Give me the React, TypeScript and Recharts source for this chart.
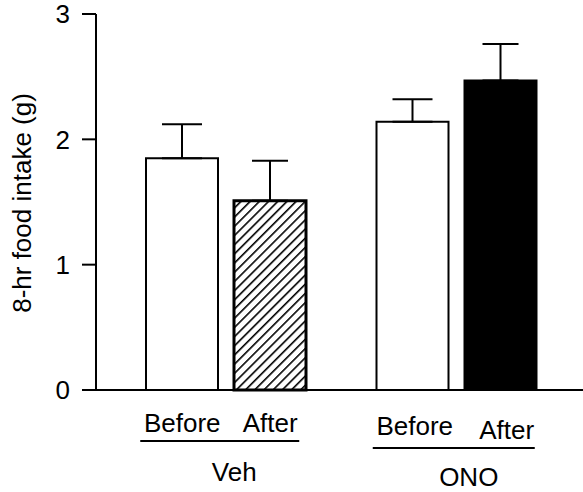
import React from 'react';
import { BarChart, Bar, XAxis, YAxis, ErrorBar, Cell, Label } from 'recharts';

const groups = ['Veh', 'ONO'];
const conditions = ['Before', 'After'];
const beforeMean = [1.85, 2.14];
const beforeSem = [0.27, 0.18];
const afterMean = [1.51, 2.47];
const afterSem = [0.32, 0.29];
const yTicks = [0, 1, 2, 3];
const yLabel = '8-hr food intake (g)';

const data = groups.map((g, i) => ({
  group: g,
  before: beforeMean[i],
  beforeErr: [0, beforeSem[i]],
  after: afterMean[i],
  afterErr: [0, afterSem[i]],
}));

const FONT = '"Liberation Sans", Arial, Helvetica, sans-serif';
const FS = 26;

// label nudges per group, relative to the group centre / axis line
const labelLayout = [
  { before: -44, beforeDy: 42, after: 44, afterDy: 42, line: [-86, 73], lineDy: 51, name: 8, nameDy: 91 },
  { before: -42, beforeDy: 45, after: 50, afterDy: 49, line: [-84, 78], lineDy: 58, name: 12, nameDy: 96 },
];

const GroupTick = (props: any) => {
  const { x, y, payload, index } = props;
  const l = labelLayout[index] ?? labelLayout[0];
  return (
    <g fontFamily={FONT} fontSize={FS}>
      <text x={x + l.before} y={y + l.beforeDy} textAnchor="middle" fill="#000">
        {conditions[0]}
      </text>
      <text x={x + l.after} y={y + l.afterDy} textAnchor="middle" fill="#000">
        {conditions[1]}
      </text>
      <line x1={x + l.line[0]} x2={x + l.line[1]} y1={y + l.lineDy} y2={y + l.lineDy} stroke="#000" strokeWidth={2} />
      <text x={x + l.name} y={y + l.nameDy} textAnchor="middle" fill="#000">
        {payload.value}
      </text>
    </g>
  );
};

const YTitle = (props: any) => {
  const { viewBox } = props;
  const cx = 31;
  const cy = viewBox.y + viewBox.height / 2 + 1;
  return (
    <text
      x={cx}
      y={cy}
      transform={`rotate(-90, ${cx}, ${cy})`}
      textAnchor="middle"
      fontFamily={FONT}
      fontSize={FS}
      fill="#000"
    >
      {yLabel}
    </text>
  );
};

export default function App() {
  return (
    <div style={{ position: 'absolute', left: 0, top: 0, width: 583, height: 492, fontFamily: FONT }}>
      <BarChart
        width={583}
        height={492}
        data={data}
        margin={{ top: 14, right: 0, bottom: 0, left: 36 }}
        barGap={16}
        barSize={72}
      >
        <defs>
          <pattern id="hatch" patternUnits="userSpaceOnUse" width={6.5} height={6.5} patternTransform="rotate(45)">
            <rect width={6.5} height={6.5} fill="#fff" />
            <line x1={0} y1={0} x2={0} y2={6.5} stroke="#000" strokeWidth={3.2} />
          </pattern>
        </defs>
        <XAxis
          dataKey="group"
          height={102}
          padding={{ left: 15, right: 11 }}
          tickSize={0}
          tickMargin={0}
          tickLine={false}
          interval={0}
          axisLine={{ stroke: '#000', strokeWidth: 2 }}
          tick={<GroupTick />}
        />
        <YAxis
          domain={[0, 3]}
          ticks={yTicks}
          interval={0}
          width={60}
          tickSize={14}
          tickMargin={12}
          axisLine={{ stroke: '#000', strokeWidth: 2 }}
          tickLine={{ stroke: '#000', strokeWidth: 2 }}
          tick={{ fill: '#000', fontSize: FS, fontFamily: FONT }}
        >
          <Label content={<YTitle />} />
        </YAxis>
        <Bar dataKey="before" fill="#fff" stroke="#000" strokeWidth={2} isAnimationActive={false}>
          <ErrorBar dataKey="beforeErr" direction="y" width={20} stroke="#000" strokeWidth={2} />
        </Bar>
        <Bar dataKey="after" stroke="#000" isAnimationActive={false}>
          {data.map((d, i) => (
            <Cell key={d.group} fill={i === 0 ? 'url(#hatch)' : '#000'} strokeWidth={i === 0 ? 3 : 2} />
          ))}
          <ErrorBar dataKey="afterErr" direction="y" width={18} stroke="#000" strokeWidth={2} />
        </Bar>
      </BarChart>
    </div>
  );
}
